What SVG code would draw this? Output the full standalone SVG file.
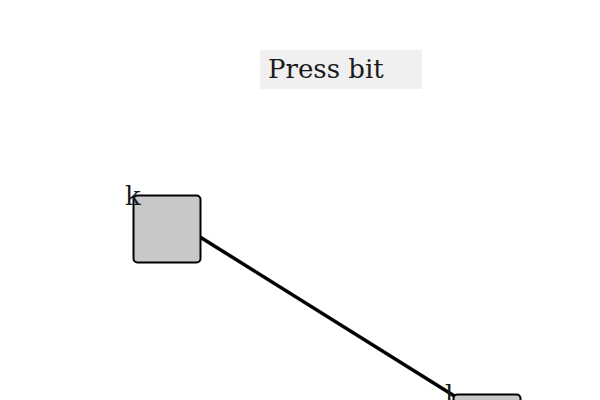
<svg xmlns="http://www.w3.org/2000/svg" width="600" height="400" viewBox="0 0 600 400">
<style>
.node{fill:#c8c8c8;stroke:#000;stroke-width:2}
.lbl{font-family:"DejaVu Serif","Liberation Serif",serif;font-size:26px;fill:#1a1a1a}
.edge{stroke:#000;stroke-width:3.5;fill:none}
</style>
<rect width="600" height="400" fill="#fff"/>
<g id="title">
<rect x="260" y="50" width="162" height="39" fill="#f0f0f0"/>
<text class="lbl" x="268" y="78">Press bit</text>
</g>
<g id="connectors">
<line class="edge" x1="200" y1="237" x2="456" y2="397"/>
</g>
<g id="node-k">
<rect class="node" x="133.5" y="195.5" width="67" height="67" rx="4"/>
<text class="lbl" x="125" y="205">k</text>
</g>
<g id="node-l">
<rect class="node" x="453.5" y="394.5" width="67" height="67" rx="4"/>
<text class="lbl" x="445" y="404">l</text>
</g>
</svg>
